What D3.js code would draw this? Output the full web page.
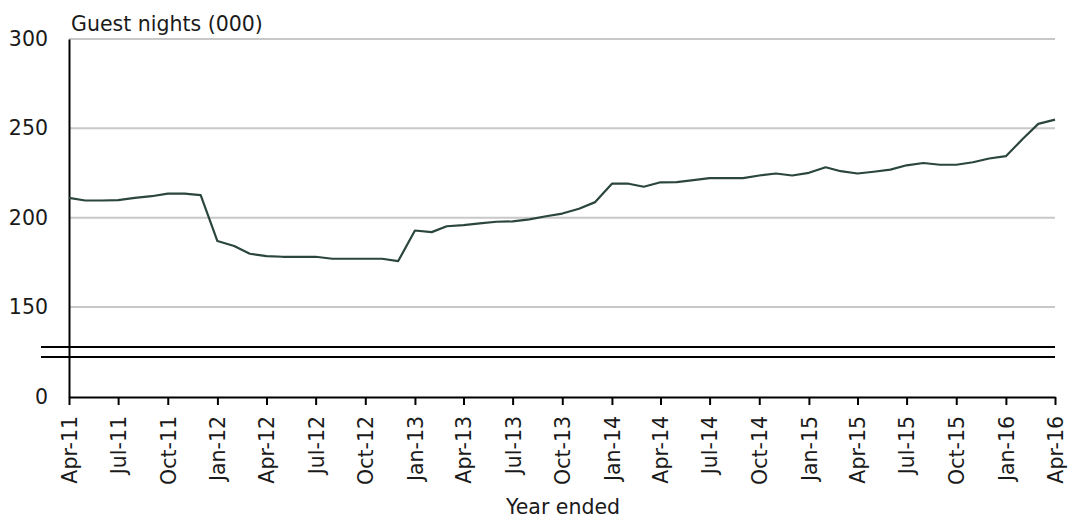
<!DOCTYPE html>
<html>

<head>
    <meta charset="utf-8">
    <style>
        body { margin: 0; background: #fff; }
        text { font-family: "DejaVu Sans", sans-serif; fill: #1a1a1a; }
    </style>
</head>

<body>
    <div class="container"></div>
    <script src="https://d3js.org/d3.v7.min.js"></script>

    <script>
        // year ended, monthly, Apr-11 .. Apr-16
        var startMonth = "2011-04";
        var nights = [
            211.1, 209.6, 209.6, 209.8, 211.1, 212.0, 213.4, 213.5, 212.6, 186.9,
            184.1, 179.8, 178.5, 178.1, 178.1, 178.1, 177.0, 177.0, 177.0, 177.0,
            175.7, 192.8, 191.9, 195.2, 195.8, 196.8, 197.7, 197.9, 199.0, 200.8,
            202.3, 205.0, 208.7, 219.0, 219.0, 217.3, 219.8, 219.9, 221.0, 222.1,
            222.1, 222.1, 223.6, 224.7, 223.6, 225.1, 228.2, 226.0, 224.7, 225.7,
            226.9, 229.3, 230.6, 229.6, 229.6, 231.0, 233.1, 234.4, 244.0, 252.5,
            254.9
        ];
        var yTicks = [0, 150, 200, 250, 300];
        var gridTicks = [150, 200, 250, 300];
        var xTickLabels = ["Apr-11", "Jul-11", "Oct-11", "Jan-12", "Apr-12", "Jul-12", "Oct-12",
            "Jan-13", "Apr-13", "Jul-13", "Oct-13", "Jan-14", "Apr-14", "Jul-14", "Oct-14",
            "Jan-15", "Apr-15", "Jul-15", "Oct-15", "Jan-16", "Apr-16"];
        var breakValue = 122; // axis is cut just above this

        var W = 1069, H = 518;
        var mLeft = 69, mRight = 1055, mTop = 39, mBottom = 397;

        var parseMonth = d3.timeParse("%Y-%m");
        var start = parseMonth(startMonth);
        var months = nights.map((d, i) => d3.timeMonth.offset(start, i));
        var data = nights.map((d, i) => ({ date: months[i], v: d }));

        let svg = d3.select(".container")
            .append("svg")
            .attr("width", W)
            .attr("height", H);

        var x = d3.scaleTime()
            .domain([months[0], months[months.length - 1]])
            .range([mLeft, mRight]);

        // broken axis: 0 at the bottom, then jump to ~122
        var y = d3.scaleLinear()
            .domain([0, breakValue, 300])
            .range([mBottom, 357, mTop]);

        // gridlines
        svg.append("g").selectAll("line")
            .data(gridTicks)
            .enter()
            .append("line")
            .attr("x1", mLeft).attr("x2", mRight)
            .attr("y1", d => y(d)).attr("y2", d => y(d))
            .attr("stroke", "#c8c8c8")
            .attr("stroke-width", 2);

        // y axis
        var yAxis = d3.axisLeft(y)
            .tickValues(yTicks)
            .tickSize(0)
            .tickPadding(21)
            .tickFormat(d3.format("d"));

        let gy = svg.append("g")
            .attr("transform", "translate(" + mLeft + ",0)")
            .call(yAxis);
        gy.select(".domain").attr("stroke", "#000").attr("stroke-width", 2);
        gy.selectAll("text")
            .style("font-family", '"DejaVu Sans", sans-serif')
            .attr("font-size", 20.5)
            .attr("fill", "#1a1a1a");

        // x axis
        var tickDates = xTickLabels.map((d, i) => months[i * 3]);
        var xAxis = d3.axisBottom(x)
            .tickValues(tickDates)
            .tickSize(8)
            .tickSizeOuter(0)
            .tickFormat((d, i) => xTickLabels[i]);

        let gx = svg.append("g")
            .attr("transform", "translate(0," + mBottom + ")")
            .call(xAxis);
        gx.select(".domain").attr("stroke", "#000").attr("stroke-width", 2);
        gx.selectAll(".tick line").attr("stroke", "#000").attr("stroke-width", 2);
        gx.selectAll("text")
            .style("font-family", '"DejaVu Sans", sans-serif')
            .attr("font-size", 20.5)
            .attr("fill", "#1a1a1a")
            .attr("transform", "rotate(-90)")
            .attr("text-anchor", "end")
            .attr("x", -19)
            .attr("y", 0)
            .attr("dy", "0.36em");

        // axis break marks
        svg.append("g").selectAll("line")
            .data([y(breakValue), y(breakValue) - 10])
            .enter()
            .append("line")
            .attr("x1", 41).attr("x2", mRight)
            .attr("y1", d => d).attr("y2", d => d)
            .attr("stroke", "#000")
            .attr("stroke-width", 2);

        // series
        var line = d3.line()
            .x(d => x(d.date))
            .y(d => y(d.v));

        svg.append("path")
            .datum(data)
            .attr("fill", "none")
            .attr("stroke", "#2b463c")
            .attr("stroke-width", 2.2)
            .attr("stroke-linejoin", "round")
            .attr("d", line);

        // titles
        svg.append("text")
            .attr("x", 71)
            .attr("y", 31)
            .attr("font-size", 20.5)
            .text("Guest nights (000)");

        svg.append("text")
            .attr("x", 563)
            .attr("y", 514)
            .attr("text-anchor", "middle")
            .attr("font-size", 20.5)
            .text("Year ended");
    </script>
</body>

</html>
